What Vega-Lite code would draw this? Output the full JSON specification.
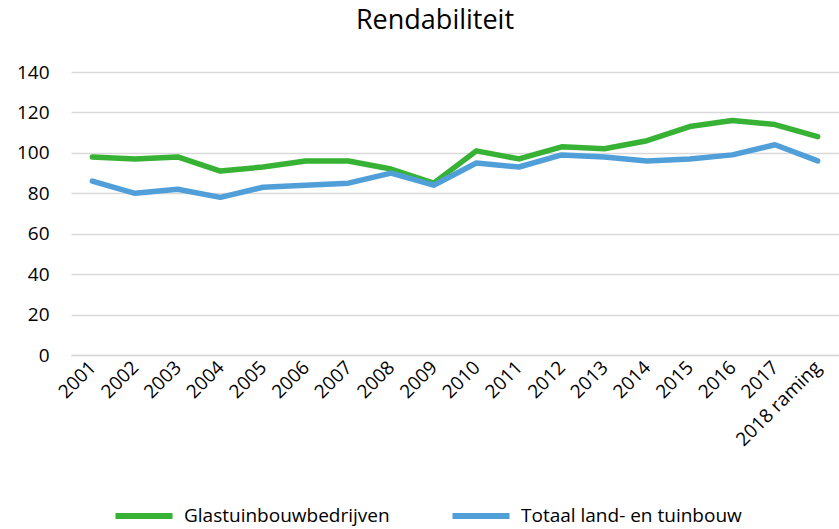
{
  "$schema": "https://vega.github.io/schema/vega-lite/v6.json",
  "width": 768,
  "height": 283,
  "autosize": {"type": "none"},
  "padding": {"left": 71, "top": 72, "right": 0, "bottom": 174},
  "background": "white",
  "config": {
    "view": {"stroke": null},
    "font": "Open Sans",
    "text": {"font": "Open Sans"}
  },
  "title": {
    "text": "Rendabiliteit",
    "font": "Open Sans",
    "fontSize": 27,
    "fontWeight": "normal",
    "color": "#000000",
    "anchor": "middle",
    "offset": 28,
    "dx": -20
  },
  "data": {
    "values": [
      {"jaar": "2001", "serie": "Glastuinbouwbedrijven", "waarde": 98},
      {"jaar": "2002", "serie": "Glastuinbouwbedrijven", "waarde": 97},
      {"jaar": "2003", "serie": "Glastuinbouwbedrijven", "waarde": 98},
      {"jaar": "2004", "serie": "Glastuinbouwbedrijven", "waarde": 91},
      {"jaar": "2005", "serie": "Glastuinbouwbedrijven", "waarde": 93},
      {"jaar": "2006", "serie": "Glastuinbouwbedrijven", "waarde": 96},
      {"jaar": "2007", "serie": "Glastuinbouwbedrijven", "waarde": 96},
      {"jaar": "2008", "serie": "Glastuinbouwbedrijven", "waarde": 92},
      {"jaar": "2009", "serie": "Glastuinbouwbedrijven", "waarde": 85},
      {"jaar": "2010", "serie": "Glastuinbouwbedrijven", "waarde": 101},
      {"jaar": "2011", "serie": "Glastuinbouwbedrijven", "waarde": 97},
      {"jaar": "2012", "serie": "Glastuinbouwbedrijven", "waarde": 103},
      {"jaar": "2013", "serie": "Glastuinbouwbedrijven", "waarde": 102},
      {"jaar": "2014", "serie": "Glastuinbouwbedrijven", "waarde": 106},
      {"jaar": "2015", "serie": "Glastuinbouwbedrijven", "waarde": 113},
      {"jaar": "2016", "serie": "Glastuinbouwbedrijven", "waarde": 116},
      {"jaar": "2017", "serie": "Glastuinbouwbedrijven", "waarde": 114},
      {"jaar": "2018 raming", "serie": "Glastuinbouwbedrijven", "waarde": 108},
      {"jaar": "2001", "serie": "Totaal land- en tuinbouw", "waarde": 86},
      {"jaar": "2002", "serie": "Totaal land- en tuinbouw", "waarde": 80},
      {"jaar": "2003", "serie": "Totaal land- en tuinbouw", "waarde": 82},
      {"jaar": "2004", "serie": "Totaal land- en tuinbouw", "waarde": 78},
      {"jaar": "2005", "serie": "Totaal land- en tuinbouw", "waarde": 83},
      {"jaar": "2006", "serie": "Totaal land- en tuinbouw", "waarde": 84},
      {"jaar": "2007", "serie": "Totaal land- en tuinbouw", "waarde": 85},
      {"jaar": "2008", "serie": "Totaal land- en tuinbouw", "waarde": 90},
      {"jaar": "2009", "serie": "Totaal land- en tuinbouw", "waarde": 84},
      {"jaar": "2010", "serie": "Totaal land- en tuinbouw", "waarde": 95},
      {"jaar": "2011", "serie": "Totaal land- en tuinbouw", "waarde": 93},
      {"jaar": "2012", "serie": "Totaal land- en tuinbouw", "waarde": 99},
      {"jaar": "2013", "serie": "Totaal land- en tuinbouw", "waarde": 98},
      {"jaar": "2014", "serie": "Totaal land- en tuinbouw", "waarde": 96},
      {"jaar": "2015", "serie": "Totaal land- en tuinbouw", "waarde": 97},
      {"jaar": "2016", "serie": "Totaal land- en tuinbouw", "waarde": 99},
      {"jaar": "2017", "serie": "Totaal land- en tuinbouw", "waarde": 104},
      {"jaar": "2018 raming", "serie": "Totaal land- en tuinbouw", "waarde": 96}
    ]
  },
  "mark": {"type": "line", "strokeWidth": 5.5, "strokeCap": "round", "strokeJoin": "round"},
  "encoding": {
    "x": {
      "field": "jaar",
      "type": "ordinal",
      "sort": null,
      "scale": {"type": "point", "padding": 0.5},
      "axis": {
        "title": null,
        "labelAngle": -45,
        "labelAlign": "right",
        "labelBaseline": "middle",
        "labelFont": "Open Sans",
        "labelFontSize": 19,
        "labelColor": "#000000",
        "labelPadding": 9,
        "ticks": false,
        "domain": true,
        "domainColor": "#d9d9d9",
        "domainWidth": 1.5,
        "grid": false
      }
    },
    "y": {
      "field": "waarde",
      "type": "quantitative",
      "scale": {"domain": [0, 140], "nice": false},
      "axis": {
        "title": null,
        "values": [0, 20, 40, 60, 80, 100, 120, 140],
        "labelFont": "Open Sans",
        "labelFontSize": 19,
        "labelColor": "#000000",
        "labelPadding": 22,
        "ticks": false,
        "domain": false,
        "gridColor": "#d9d9d9",
        "gridWidth": 1.5
      }
    },
    "color": {
      "field": "serie",
      "type": "nominal",
      "scale": {
        "domain": ["Glastuinbouwbedrijven", "Totaal land- en tuinbouw"],
        "range": ["#37b234", "#519fd9"]
      },
      "legend": {
        "title": null,
        "orient": "none",
        "legendX": 41,
        "legendY": 412,
        "direction": "horizontal",
        "symbolType": "stroke",
        "symbolSize": 3250,
        "symbolStrokeWidth": 6,
        "labelFont": "Open Sans",
        "labelFontSize": 19,
        "labelColor": "#000000",
        "labelOffset": 8,
        "columnPadding": 50,
        "labelLimit": 400
      }
    }
  }
}
